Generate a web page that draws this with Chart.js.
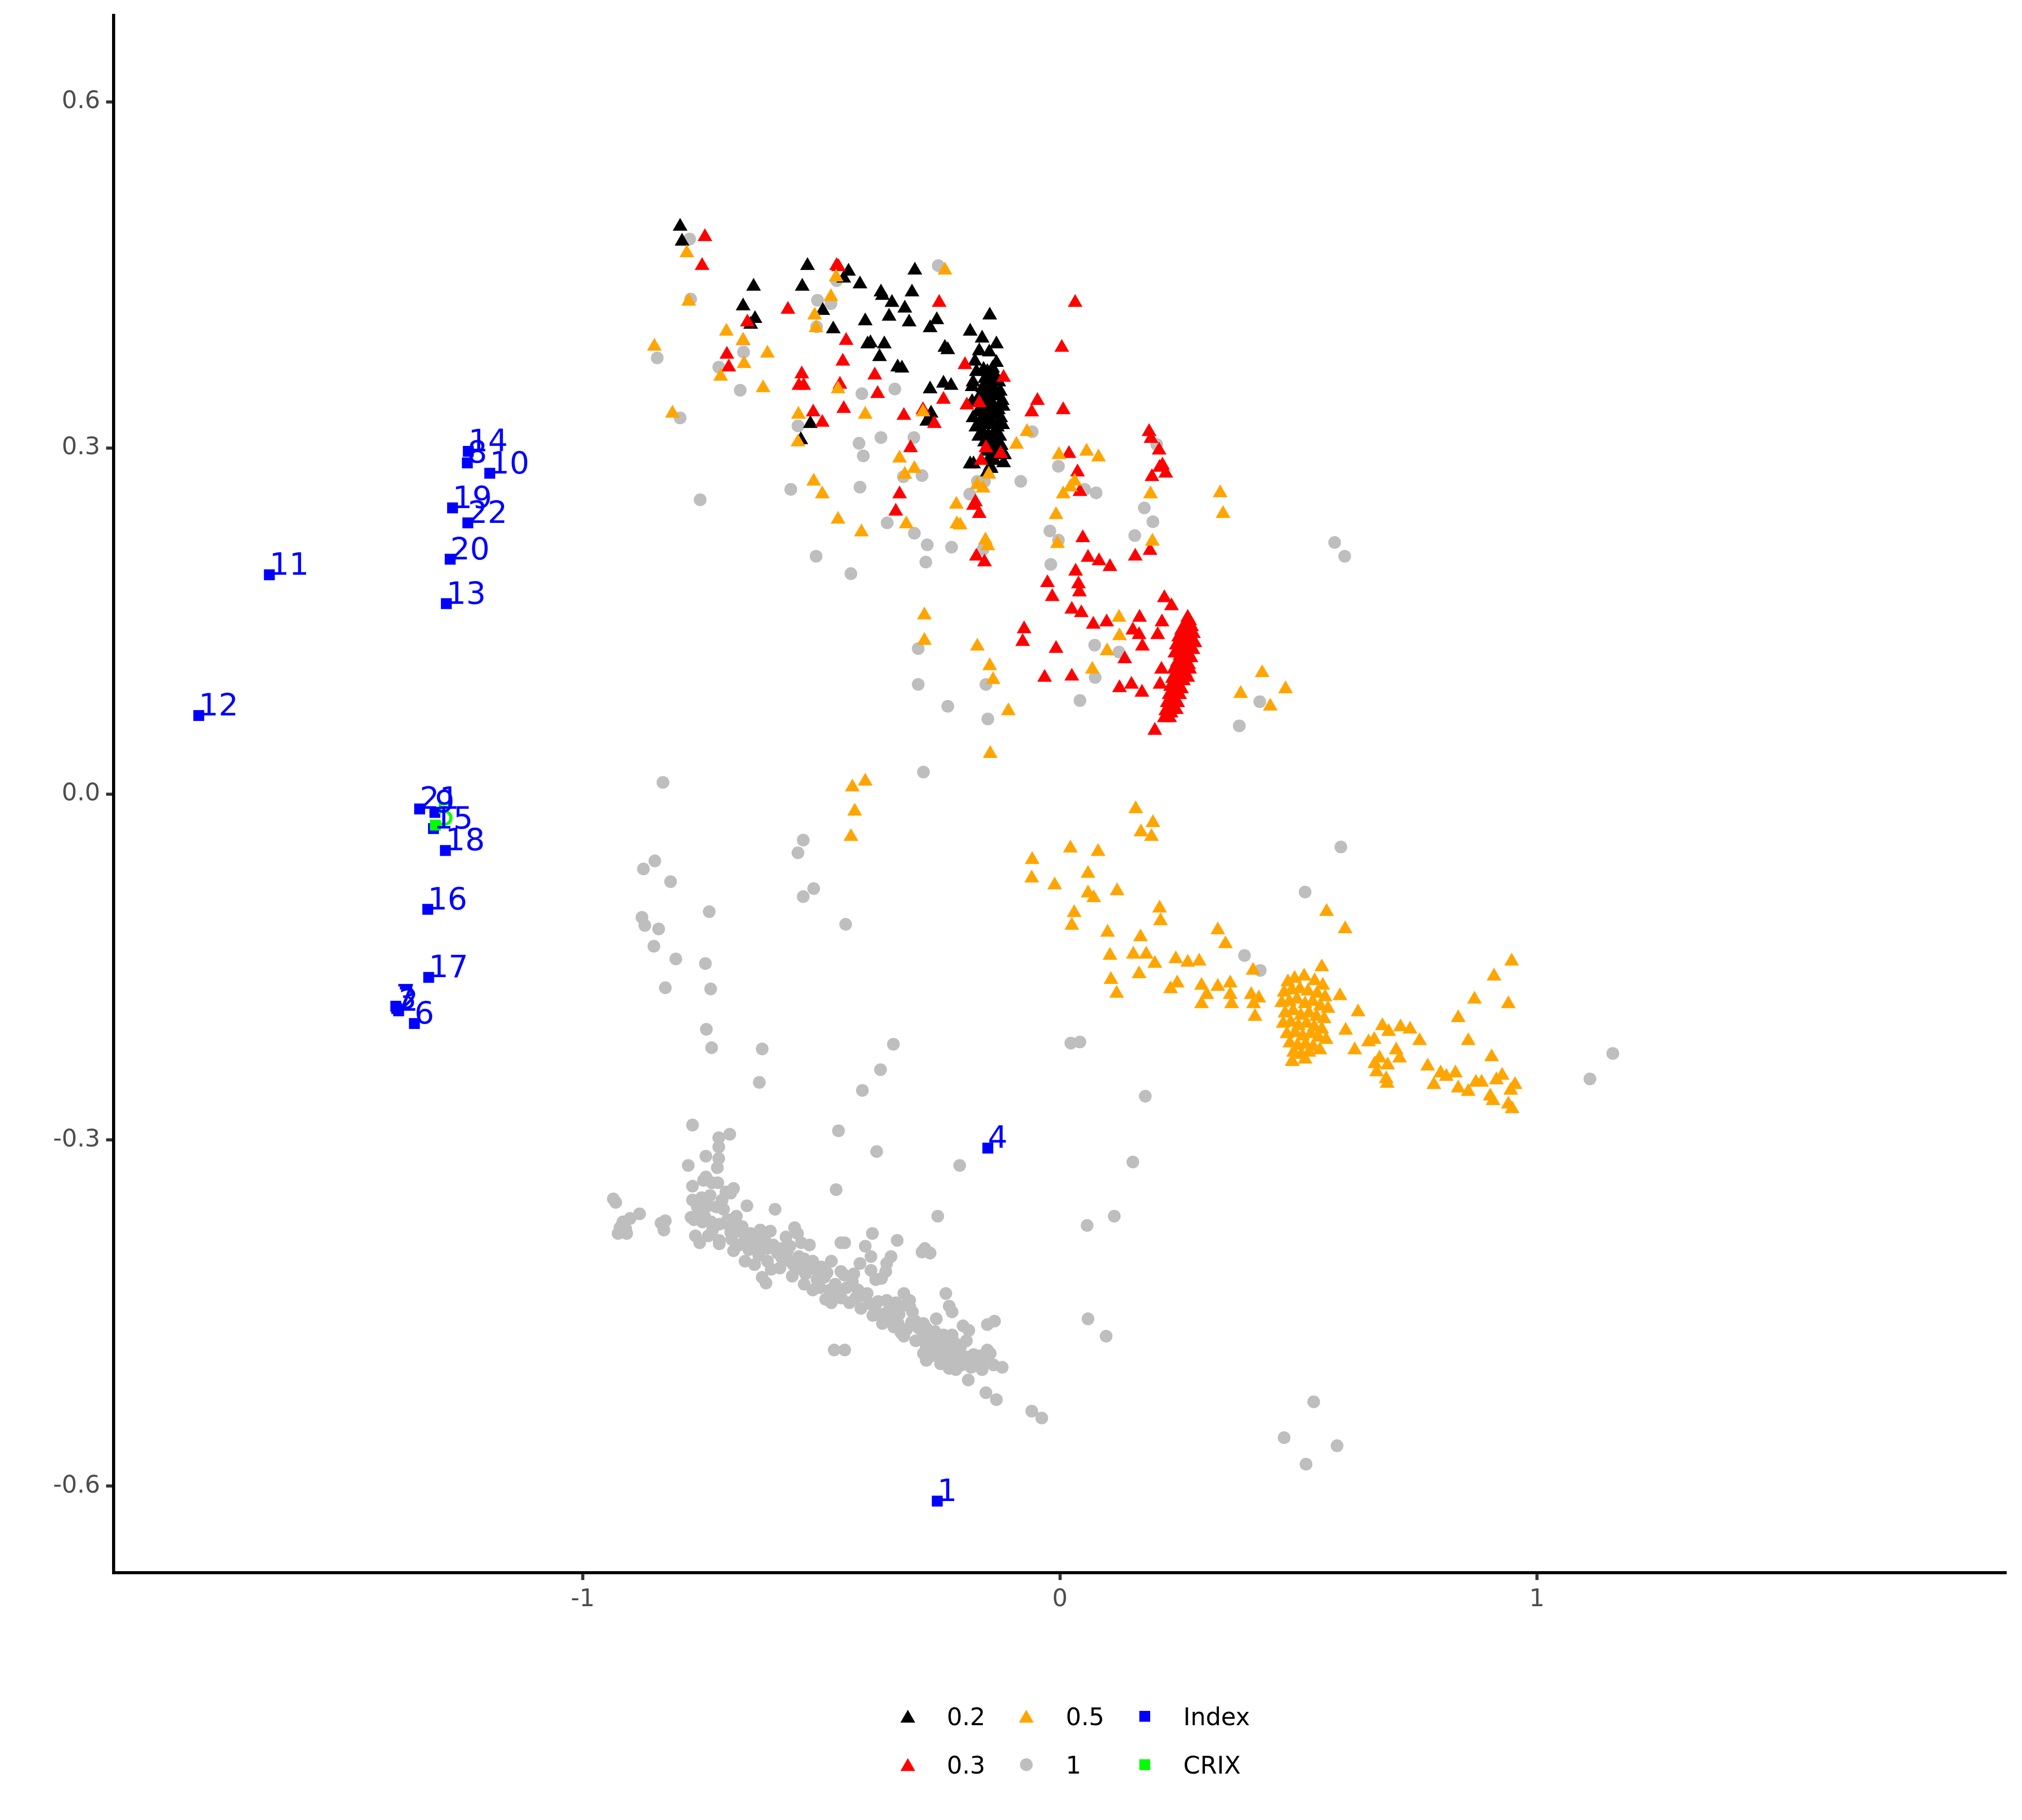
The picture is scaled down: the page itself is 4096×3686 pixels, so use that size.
<!DOCTYPE html>
<html><head><meta charset="utf-8">
<script src="https://cdn.jsdelivr.net/npm/chart.js@4/dist/chart.umd.min.js"></script>
<style>html,body{margin:0;padding:0;background:#ffffff;}canvas{display:block;}</style>
</head><body>
<canvas id="c" width="4096" height="3686"></canvas>
<script>
// ---- data: series "0.2" (black triangles) ----
const series02 = [
[-0.796,0.492],[-0.792,0.479],[-0.529,0.458],[-0.443,0.453],[-0.453,0.447],[-0.304,0.454],[-0.642,0.440],[-0.540,0.440],[-0.419,0.442],[-0.375,0.435],[-0.372,0.432],[-0.310,0.435],[-0.664,0.423],[-0.352,0.426],[-0.325,0.421],[-0.497,0.419],[-0.639,0.412],[-0.648,0.407],[-0.408,0.410],[-0.358,0.414],[-0.316,0.409],[-0.258,0.411],[-0.272,0.404],[-0.147,0.415],[-0.475,0.403],[-0.188,0.401],[-0.403,0.390],[-0.397,0.391],[-0.368,0.390],[-0.378,0.379],[-0.163,0.395],[-0.133,0.390],[-0.241,0.387],[-0.235,0.385],[-0.340,0.370],[-0.331,0.369],[-0.272,0.351],[-0.244,0.356],[-0.228,0.354],[-0.523,0.321],[-0.543,0.307],[-0.270,0.330],[-0.275,0.324],[-0.188,0.286],[-0.181,0.286],[-0.118,0.294],[-0.169,0.384],[-0.148,0.383],[-0.178,0.375],[-0.133,0.374],[-0.175,0.366],[-0.137,0.364],[-0.182,0.357],[-0.184,0.353],[-0.146,0.354],[-0.184,0.340],[-0.174,0.340],[-0.182,0.326],[-0.279,0.323],[-0.146,0.284],[-0.118,0.287],[-0.152,0.279],[-0.116,0.294],
[-0.160,0.368],[-0.152,0.366],[-0.141,0.369],[-0.135,0.362],[-0.157,0.360],[-0.147,0.358],[-0.128,0.357],[-0.162,0.352],[-0.150,0.350],[-0.139,0.352],[-0.125,0.349],[-0.158,0.344],[-0.146,0.342],[-0.133,0.345],[-0.121,0.341],[-0.163,0.337],[-0.152,0.335],[-0.141,0.337],[-0.129,0.333],[-0.119,0.336],[-0.160,0.328],[-0.149,0.327],[-0.137,0.329],[-0.124,0.326],[-0.165,0.321],[-0.154,0.320],[-0.143,0.322],[-0.131,0.318],[-0.120,0.320],[-0.161,0.313],[-0.150,0.311],[-0.138,0.313],[-0.126,0.310],[-0.158,0.305],[-0.146,0.303],[-0.134,0.305],[-0.123,0.302],[-0.154,0.297],[-0.142,0.295],[-0.130,0.298],[-0.149,0.290],[-0.137,0.289],[-0.144,0.282],[-0.172,0.331],[-0.176,0.318],[-0.170,0.310],[-0.168,0.345]
];
// ---- series "0.3" (red triangles) ----
const series03 = [
[-0.744,0.483],[-0.750,0.458],[-0.468,0.458],[-0.464,0.457],[-0.253,0.426],[-0.570,0.420],[-0.655,0.409],[-0.664,0.393],[-0.448,0.393],[-0.698,0.381],[-0.694,0.370],[-0.455,0.375],[-0.541,0.364],[-0.547,0.354],[-0.537,0.354],[-0.388,0.363],[-0.461,0.355],[-0.382,0.347],[0.004,0.387],[-0.199,0.372],[-0.118,0.361],[-0.244,0.342],[-0.195,0.337],[-0.169,0.339],[-0.047,0.341],[-0.059,0.331],[0.007,0.333],[-0.453,0.334],[-0.517,0.331],[-0.498,0.322],[-0.327,0.328],[-0.287,0.333],[-0.263,0.321],[-0.155,0.300],[-0.165,0.289],[0.019,0.295],[-0.313,0.300],[-0.336,0.260],[-0.344,0.245],[-0.177,0.253],[-0.169,0.243],[-0.181,0.250],[0.032,0.426],[-0.124,0.295],
[0.187,0.314],[0.191,0.308],[0.208,0.298],[0.215,0.285],[0.209,0.283],[0.222,0.278],[0.193,0.275],[0.037,0.279],[0.042,0.262],[0.189,0.211],[-0.175,0.206],[-0.158,0.201],[0.048,0.222],[0.059,0.205],[0.082,0.202],[0.105,0.197],[0.158,0.206],[0.033,0.193],[-0.026,0.183],[0.039,0.182],[0.041,0.175],[-0.016,0.171],[0.025,0.160],[0.045,0.157],[0.219,0.170],[0.234,0.163],[0.070,0.147],[0.098,0.149],[0.167,0.153],[0.214,0.149],[0.153,0.142],[0.166,0.138],[0.205,0.138],[0.173,0.128],[-0.075,0.143],[-0.078,0.132],[-0.008,0.126],[0.136,0.117],[0.213,0.108],[0.210,0.095],[-0.032,0.101],[0.025,0.102],[0.125,0.092],[0.150,0.095],[0.172,0.088],[0.199,0.055],
[0.268,0.153],[0.272,0.150],[0.262,0.147],[0.276,0.145],[0.255,0.142],[0.267,0.141],[0.280,0.139],[0.249,0.136],[0.261,0.135],[0.273,0.134],[0.283,0.131],[0.244,0.129],[0.256,0.128],[0.268,0.127],[0.279,0.125],[0.241,0.122],[0.252,0.120],[0.264,0.121],[0.275,0.118],[0.246,0.114],[0.258,0.113],[0.270,0.112],[0.239,0.108],[0.251,0.106],[0.263,0.105],[0.272,0.108],[0.236,0.100],[0.247,0.099],[0.259,0.098],[0.268,0.101],[0.232,0.093],[0.243,0.092],[0.255,0.091],[0.229,0.086],[0.240,0.084],[0.251,0.086],[0.225,0.079],[0.236,0.077],[0.247,0.079],[0.222,0.072],[0.233,0.070],[0.244,0.073],[0.230,0.066],[0.219,0.066]
];
// ---- series "0.5" (orange triangles) ----
const series05 = [
[-0.782,0.469],[-0.778,0.427],[-0.850,0.388],[-0.699,0.401],[-0.664,0.393],[-0.613,0.382],[-0.662,0.373],[-0.711,0.362],[-0.622,0.352],[-0.812,0.330],[-0.469,0.448],[-0.480,0.431],[-0.514,0.415],[-0.511,0.404],[-0.241,0.454],[-0.465,0.351],[-0.548,0.329],[-0.408,0.329],[-0.287,0.331],[-0.549,0.305],[-0.069,0.314],[-0.091,0.303],[-0.002,0.294],[-0.336,0.291],[-0.305,0.282],[-0.325,0.277],[-0.149,0.277],[-0.516,0.271],[-0.498,0.260],[-0.173,0.268],[-0.161,0.265],[-0.217,0.251],[0.007,0.260],[-0.008,0.242],[-0.465,0.238],[-0.416,0.227],[-0.322,0.234],[-0.216,0.234],
[0.056,0.297],[0.081,0.292],[0.031,0.271],[0.022,0.266],[0.190,0.260],[0.336,0.261],[0.342,0.243],[-0.209,0.233],[-0.156,0.220],[-0.151,0.215],[-0.005,0.217],[0.194,0.219],[0.124,0.153],[0.125,0.137],[0.099,0.124],[-0.173,0.128],[-0.147,0.111],[-0.140,0.099],[0.068,0.108],[0.424,0.105],[0.379,0.087],[-0.108,0.072],[0.441,0.076],[0.473,0.091],[-0.146,0.035],[-0.284,0.155],[-0.284,0.133],
[-0.435,0.006],[-0.408,0.011],[-0.430,-0.015],[-0.438,-0.037],
[0.159,-0.013],[0.195,-0.025],[0.170,-0.033],[0.192,-0.037],[0.022,-0.047],[0.080,-0.050],[-0.058,-0.057],[-0.059,-0.073],[0.059,-0.069],[-0.011,-0.079],[0.059,-0.086],[0.071,-0.090],[0.120,-0.084],[0.030,-0.103],[0.025,-0.114],[0.209,-0.099],[0.211,-0.110],[0.100,-0.120],[0.169,-0.124],[0.105,-0.140],[0.154,-0.139],[0.181,-0.139],[0.199,-0.147],[0.107,-0.161],[0.119,-0.173],[0.166,-0.156],[0.243,-0.143],[0.268,-0.146],[0.292,-0.145],[0.331,-0.118],[0.347,-0.130],[0.246,-0.164],[0.232,-0.169],[0.297,-0.166],[0.308,-0.174],[0.297,-0.182],[0.331,-0.167],[0.357,-0.164],[0.357,-0.174],[0.360,-0.182],[0.401,-0.174],[0.417,-0.177],[0.406,-0.182],[0.409,-0.193],[0.405,-0.153],[0.559,-0.102],[0.598,-0.117],[0.549,-0.150],[0.587,-0.175],[0.625,-0.189],[0.599,-0.205],[0.618,-0.222],[0.487,-0.232],[0.647,-0.215],[0.659,-0.213],[0.676,-0.201],[0.689,-0.206],[0.714,-0.202],[0.734,-0.204],[0.754,-0.214],[0.705,-0.222],[0.712,-0.229],[0.670,-0.229],[0.660,-0.234],[0.664,-0.241],[0.687,-0.235],[0.684,-0.247],[0.686,-0.251],[0.771,-0.236],[0.798,-0.242],[0.810,-0.245],[0.829,-0.242],[0.784,-0.252],[0.835,-0.255],[0.856,-0.258],[0.872,-0.250],[0.884,-0.250],[0.835,-0.194],[0.869,-0.178],[0.856,-0.214],[0.947,-0.145],[0.910,-0.158],[0.940,-0.182],[0.905,-0.228],[0.927,-0.244],[0.915,-0.248],[0.954,-0.252],[0.945,-0.257],[0.902,-0.262],[0.908,-0.266],[0.940,-0.269],[0.948,-0.273],
[0.478,-0.163],[0.492,-0.160],[0.512,-0.158],[0.534,-0.162],[0.551,-0.166],[0.470,-0.172],[0.486,-0.170],[0.503,-0.169],[0.520,-0.171],[0.539,-0.173],[0.556,-0.176],[0.465,-0.181],[0.481,-0.180],[0.497,-0.178],[0.514,-0.182],[0.530,-0.180],[0.546,-0.184],[0.562,-0.186],[0.472,-0.190],[0.489,-0.188],[0.505,-0.192],[0.522,-0.190],[0.538,-0.193],[0.554,-0.195],[0.468,-0.199],[0.484,-0.198],[0.500,-0.201],[0.517,-0.199],[0.533,-0.202],[0.549,-0.204],[0.476,-0.208],[0.493,-0.207],[0.509,-0.210],[0.526,-0.208],[0.542,-0.211],[0.482,-0.216],[0.498,-0.218],[0.515,-0.217],[0.531,-0.219],[0.490,-0.224],[0.506,-0.226],[0.522,-0.224],[0.487,-0.232],[0.514,-0.230],[0.545,-0.222],[0.558,-0.213]
];
// ---- series "1" (grey circles) ----
const series1 = [
[-0.776,0.481],[-0.774,0.429],[-0.844,0.378],[-0.663,0.383],[-0.715,0.370],[-0.670,0.350],[-0.796,0.326],[-0.754,0.255],[-0.468,0.445],[-0.508,0.428],[-0.480,0.425],[-0.510,0.405],[-0.255,0.458],[-0.415,0.347],[-0.346,0.351],[-0.549,0.319],[-0.421,0.304],[-0.375,0.309],[-0.306,0.309],[-0.412,0.293],[-0.328,0.275],[-0.289,0.276],[-0.173,0.271],[-0.158,0.271],[-0.189,0.260],[-0.058,0.314],[-0.082,0.271],[-0.003,0.284],[-0.564,0.264],[-0.419,0.266],[-0.362,0.235],
[0.052,0.264],[0.076,0.261],[0.203,0.303],[0.177,0.248],[0.195,0.236],[-0.021,0.228],[-0.003,0.220],[0.157,0.224],[-0.227,0.214],[-0.161,0.212],[-0.019,0.199],[0.073,0.129],[0.124,0.123],[0.074,0.101],[-0.155,0.095],[0.042,0.081],[0.419,0.080],
[-0.151,0.065],[-0.235,0.076],[-0.297,0.095],[-0.297,0.126],[-0.286,0.019],[-0.438,0.191],[-0.511,0.206],[-0.305,0.226],[-0.278,0.216],[-0.281,0.201],[0.376,0.059],[0.576,0.218],[0.597,0.206],[-0.832,0.010],
[-0.538,-0.040],[-0.549,-0.051],[-0.538,-0.089],[-0.516,-0.082],[-0.449,-0.113],[-0.873,-0.065],[-0.849,-0.058],[-0.816,-0.076],[-0.876,-0.107],[-0.870,-0.114],[-0.841,-0.117],[-0.851,-0.132],[-0.805,-0.143],[-0.827,-0.168],[-0.735,-0.102],[-0.743,-0.147],[-0.732,-0.169],[-0.741,-0.204],[-0.730,-0.220],[-0.624,-0.221],[-0.630,-0.250],[-0.414,-0.257],[-0.376,-0.239],[-0.349,-0.217],
[0.589,-0.046],[0.514,-0.085],[0.387,-0.140],[0.420,-0.153],[0.023,-0.216],[0.042,-0.215],[0.179,-0.262],[0.153,-0.319],
[0.114,-0.366],[0.057,-0.374],[0.059,-0.455],[0.097,-0.470],[-0.059,-0.535],[-0.038,-0.541],[0.470,-0.558],[0.532,-0.527],[0.516,-0.581],[0.581,-0.565],[1.111,-0.247],[1.159,-0.225],
[-0.770,-0.287],[-0.715,-0.298],[-0.692,-0.295],[-0.715,-0.306],[-0.742,-0.314],[-0.715,-0.316],[-0.779,-0.322],[-0.718,-0.324],[-0.464,-0.292],[-0.384,-0.310],[-0.210,-0.322],[-0.469,-0.343],[-0.256,-0.366],[-0.742,-0.332],[-0.747,-0.335],[-0.729,-0.337],[-0.717,-0.337],[-0.770,-0.340],[-0.684,-0.342],[-0.690,-0.346],[-0.700,-0.345],[-0.936,-0.351],[-0.931,-0.354],[-0.770,-0.352],[-0.751,-0.350],[-0.656,-0.357],[-0.597,-0.360],[-0.881,-0.364],[-0.901,-0.368],[-0.916,-0.371],[-0.922,-0.376],[-0.926,-0.381],[-0.908,-0.381],[-0.910,-0.377],[-0.827,-0.370],[-0.836,-0.372],[-0.830,-0.378],[-0.773,-0.367],
[-0.755,-0.362],[-0.737,-0.357],[-0.720,-0.358],[-0.705,-0.360],[-0.767,-0.369],[-0.749,-0.371],[-0.731,-0.371],[-0.714,-0.373],[-0.696,-0.369],[-0.684,-0.375],[-0.764,-0.383],[-0.755,-0.389],[-0.737,-0.383],[-0.714,-0.387],[-0.714,-0.390],[-0.666,-0.375],[-0.690,-0.380],
[-0.607,-0.379],[-0.556,-0.376],[-0.550,-0.381],[-0.574,-0.384],[-0.542,-0.389],[-0.525,-0.391],
[-0.684,-0.396],[-0.672,-0.391],[-0.660,-0.387],[-0.642,-0.384],[-0.636,-0.392],[-0.624,-0.389],[-0.613,-0.394],[-0.601,-0.391],[-0.583,-0.394],[-0.577,-0.399],[-0.660,-0.405],[-0.640,-0.408],[-0.613,-0.405],[-0.583,-0.402],[-0.571,-0.396],
[-0.624,-0.419],[-0.616,-0.424],[-0.479,-0.405],
[-0.559,-0.408],[-0.541,-0.412],[-0.536,-0.403],[-0.518,-0.405],[-0.512,-0.412],[-0.500,-0.410],[-0.536,-0.425],[-0.518,-0.430],[-0.488,-0.415],[-0.482,-0.430],[-0.491,-0.438],[-0.479,-0.441],[-0.458,-0.437],[-0.452,-0.417],
[-0.459,-0.389],[-0.451,-0.389],[-0.408,-0.392],[-0.393,-0.381],[-0.341,-0.387],[-0.396,-0.401],[-0.419,-0.407],[-0.354,-0.401],[-0.363,-0.407],[-0.365,-0.414],[-0.283,-0.394],[-0.272,-0.398],[-0.289,-0.397],[-0.396,-0.413],[-0.386,-0.421],[-0.374,-0.420],
[-0.435,-0.423],[-0.423,-0.430],[-0.411,-0.435],[-0.398,-0.442],[-0.386,-0.448],[-0.369,-0.451],[-0.357,-0.455],[-0.363,-0.439],[-0.339,-0.459],[-0.321,-0.464],[-0.333,-0.467],[-0.315,-0.444],[-0.309,-0.449],[-0.303,-0.457],[-0.315,-0.439],[-0.327,-0.433],
[-0.239,-0.433],[-0.226,-0.449],[-0.232,-0.444],[-0.259,-0.455],[-0.280,-0.463],[-0.203,-0.461],[-0.191,-0.465],[-0.152,-0.460],[-0.137,-0.457],
[-0.291,-0.473],[-0.280,-0.480],[-0.262,-0.476],[-0.244,-0.469],[-0.226,-0.469],[-0.220,-0.476],[-0.214,-0.482],[-0.232,-0.483],[-0.250,-0.489],[-0.268,-0.487],[-0.286,-0.485],[-0.280,-0.491],[-0.250,-0.494],[-0.232,-0.498],[-0.218,-0.499],[-0.214,-0.493],
[-0.181,-0.486],[-0.167,-0.487],[-0.152,-0.482],[-0.146,-0.485],[-0.139,-0.495],[-0.121,-0.497],[-0.192,-0.508],[-0.155,-0.519],[-0.133,-0.525],[-0.473,-0.482],[-0.451,-0.482],
[-0.745,-0.366],[-0.728,-0.378],[-0.702,-0.372],[-0.688,-0.386],[-0.671,-0.379],[-0.652,-0.395],[-0.648,-0.381],[-0.631,-0.400],[-0.619,-0.385],[-0.605,-0.412],[-0.592,-0.398],[-0.587,-0.411],[-0.566,-0.405],[-0.561,-0.418],[-0.547,-0.401],[-0.533,-0.416],[-0.527,-0.409],[-0.509,-0.421],[-0.503,-0.428],[-0.494,-0.419],[-0.471,-0.425],[-0.466,-0.433],[-0.447,-0.428],[-0.441,-0.441],[-0.428,-0.437],[-0.417,-0.446],[-0.404,-0.433],[-0.392,-0.452],[-0.381,-0.440],[-0.372,-0.459],[-0.358,-0.447],[-0.348,-0.462],[-0.337,-0.451],[-0.327,-0.470],[-0.311,-0.458],[-0.302,-0.474],[-0.296,-0.463],[-0.276,-0.470],[-0.271,-0.481],[-0.257,-0.474],[-0.247,-0.483],[-0.238,-0.477],[-0.229,-0.490],[-0.217,-0.486],[-0.206,-0.495],[-0.197,-0.488],[-0.186,-0.497],[-0.175,-0.492],[-0.163,-0.499],[-0.158,-0.490],[-0.208,-0.479],[-0.196,-0.474],[-0.262,-0.466],[-0.286,-0.459],[-0.323,-0.443],[-0.344,-0.441],[-0.432,-0.416],[-0.459,-0.414],[-0.566,-0.392],[-0.628,-0.378],[-0.678,-0.366],[-0.708,-0.352],[-0.733,-0.348],[-0.760,-0.358]
];
// ---- Index points (blue squares) with labels ----
const indexLabels = ['1','2','3','4','6','7','8','9','10','11','12','13','14','15','16','17','18','19','20','21','22'];
const indexX = [-0.257,-1.386,-1.390,-0.151,-1.353,-1.392,-1.242,-1.310,-1.195,-1.657,-1.805,-1.286,-1.240,-1.313,-1.325,-1.323,-1.288,-1.273,-1.278,-1.342,-1.241];
const indexY = [-0.613,-0.188,-0.186,-0.307,-0.199,-0.184,0.287,-0.016,0.278,0.190,0.068,0.165,0.297,-0.030,-0.100,-0.159,-0.049,0.248,0.2035,-0.013,0.235];
// ---- CRIX point (green square) ----
const crixLabels = ['5'];
const crixX = [-1.309];
const crixY = [-0.027];
// ---- axes / legend text ----
const xTicks = [-1, 0, 1];
const xTickLabels = ['-1', '0', '1'];
const yTicks = [-0.6, -0.3, 0, 0.3, 0.6];
const yTickLabels = ['-0.6', '-0.3', '0.0', '0.3', '0.6'];
const legendLabels = ['0.2', '0.3', '0.5', '1', 'Index', 'CRIX'];

const pairs = a => a.map(p => ({x: p[0], y: p[1]}));
const zipXY = (xs, ys) => xs.map((x, i) => ({x: x, y: ys[i]}));

const COL = {b:'#000000', r:'#FF0000', o:'#FFA500', g:'#BEBEBE', idx:'#0000FF', crix:'#00FF00'};
const R_TRI = 17.3, R_CIR = 12.9, R_SQ = 15.6;
const FONT = '"DejaVu Sans", "Liberation Sans", sans-serif';

function ds(label, data, color, style, radius, order, extra) {
  return Object.assign({
    label: label, data: data, order: order,
    backgroundColor: color, borderColor: color,
    pointStyle: style, pointRadius: radius, pointHoverRadius: radius,
    pointBorderWidth: 0, pointHoverBorderWidth: 0, showLine: false
  }, extra || {});
}

const datasets = [
  ds(legendLabels[5], zipXY(crixX, crixY), COL.crix, 'rect', R_SQ, 0, {labels: crixLabels, labelOrder: 0}),
  ds(legendLabels[4], zipXY(indexX, indexY), COL.idx, 'rect', R_SQ, 1, {labels: indexLabels, labelOrder: 1}),
  ds(legendLabels[2], pairs(series05), COL.o, 'triangle', R_TRI, 2),
  ds(legendLabels[1], pairs(series03), COL.r, 'triangle', R_TRI, 3),
  ds(legendLabels[0], pairs(series02), COL.b, 'triangle', R_TRI, 4),
  ds(legendLabels[3], pairs(series1), COL.g, 'circle', R_CIR, 5)
];

const pointLabels = {
  id: 'pointLabels',
  afterDatasetsDraw(chart) {
    const ctx = chart.ctx;
    ctx.save();
    ctx.font = '63px ' + FONT;
    ctx.textAlign = 'left';
    ctx.textBaseline = 'alphabetic';
    const list = chart.data.datasets.map((d, i) => ({d, i})).filter(o => o.d.labels)
      .sort((a, b) => a.d.labelOrder - b.d.labelOrder);
    list.forEach(o => {
      const meta = chart.getDatasetMeta(o.i);
      ctx.fillStyle = o.d.backgroundColor;
      meta.data.forEach((el, j) => ctx.fillText(o.d.labels[j], el.x, el.y));
    });
    ctx.restore();
  }
};

function drawSym(ctx, style, r, x, y) {
  if (Chart.helpers && Chart.helpers.drawPoint) {
    Chart.helpers.drawPoint(ctx, {pointStyle: style, radius: r, rotation: 0, borderWidth: 0}, x, y);
    return;
  }
  ctx.beginPath();
  if (style === 'circle') ctx.arc(x, y, r, 0, Math.PI * 2);
  else if (style === 'rect') { const s = r * Math.SQRT1_2; ctx.rect(x - s, y - s, 2 * s, 2 * s); }
  else { for (let k = 0; k < 3; k++) { const a = k * 2 * Math.PI / 3; const px = x + Math.sin(a) * r, py = y - Math.cos(a) * r; k ? ctx.lineTo(px, py) : ctx.moveTo(px, py); } ctx.closePath(); }
  ctx.fill();
}

const customLegend = {
  id: 'customLegend',
  afterDraw(chart) {
    const ctx = chart.ctx;
    const symX = [1839, 2079, 2319], txtX = [1918, 2159, 2397], rowY = [3476, 3574];
    const items = [
      {t: legendLabels[0], s: 'triangle', r: R_TRI, c: COL.b, col: 0, row: 0},
      {t: legendLabels[1], s: 'triangle', r: R_TRI, c: COL.r, col: 0, row: 1},
      {t: legendLabels[2], s: 'triangle', r: R_TRI, c: COL.o, col: 1, row: 0},
      {t: legendLabels[3], s: 'circle', r: R_CIR, c: COL.g, col: 1, row: 1},
      {t: legendLabels[4], s: 'rect', r: R_SQ, c: COL.idx, col: 2, row: 0},
      {t: legendLabels[5], s: 'rect', r: R_SQ, c: COL.crix, col: 2, row: 1}
    ];
    ctx.save();
    ctx.font = '49px ' + FONT;
    ctx.textAlign = 'left';
    ctx.textBaseline = 'alphabetic';
    items.forEach(it => {
      const y = rowY[it.row];
      ctx.fillStyle = it.c;
      const yy = it.s === 'triangle' ? y + 4 : y;
      drawSym(ctx, it.s, it.r, symX[it.col], yy);
      ctx.fillStyle = '#000000';
      ctx.fillText(it.t, txtX[it.col], y + 18);
    });
    ctx.restore();
  }
};

const zeroPad = s => { s.paddingTop = 0; s.paddingBottom = 0; s.paddingLeft = 0; s.paddingRight = 0; };
const tickFont = {family: 'DejaVu Sans', size: 49};
new Chart(document.getElementById('c'), {
  type: 'scatter',
  data: {datasets: datasets},
  options: {
    responsive: false, animation: false, devicePixelRatio: 1, events: [],
    layout: {padding: {left: 0, right: 32, top: 31, bottom: 401}},
    plugins: {legend: {display: false}, tooltip: {enabled: false}},
    scales: {
      x: {
        type: 'linear', position: 'bottom', min: -1.9836, max: 1.9836,
        afterBuildTicks: s => { s.ticks = xTicks.map(v => ({value: v})); },
        afterFit: s => { s.height = 100; zeroPad(s); },
        ticks: {callback: v => xTickLabels[xTicks.indexOf(v)], font: tickFont, color: '#4D4D4D', padding: 11, maxRotation: 0, autoSkip: false},
        grid: {display: true, drawOnChartArea: false, drawTicks: true, tickLength: 15, tickWidth: 6.3, tickColor: '#333333'},
        border: {display: true, color: '#000000', width: 6.3}
      },
      y: {
        type: 'linear', position: 'left', min: -0.675, max: 0.675,
        afterBuildTicks: s => { s.ticks = yTicks.map(v => ({value: v})); },
        afterFit: s => { s.width = 230; zeroPad(s); },
        ticks: {callback: v => yTickLabels[yTicks.indexOf(v)], font: tickFont, color: '#4D4D4D', padding: 12, autoSkip: false},
        grid: {display: true, drawOnChartArea: false, drawTicks: true, tickLength: 15, tickWidth: 6.3, tickColor: '#333333'},
        border: {display: true, color: '#000000', width: 6.3}
      }
    }
  },
  plugins: [pointLabels, customLegend]
});
</script>
</body></html>
